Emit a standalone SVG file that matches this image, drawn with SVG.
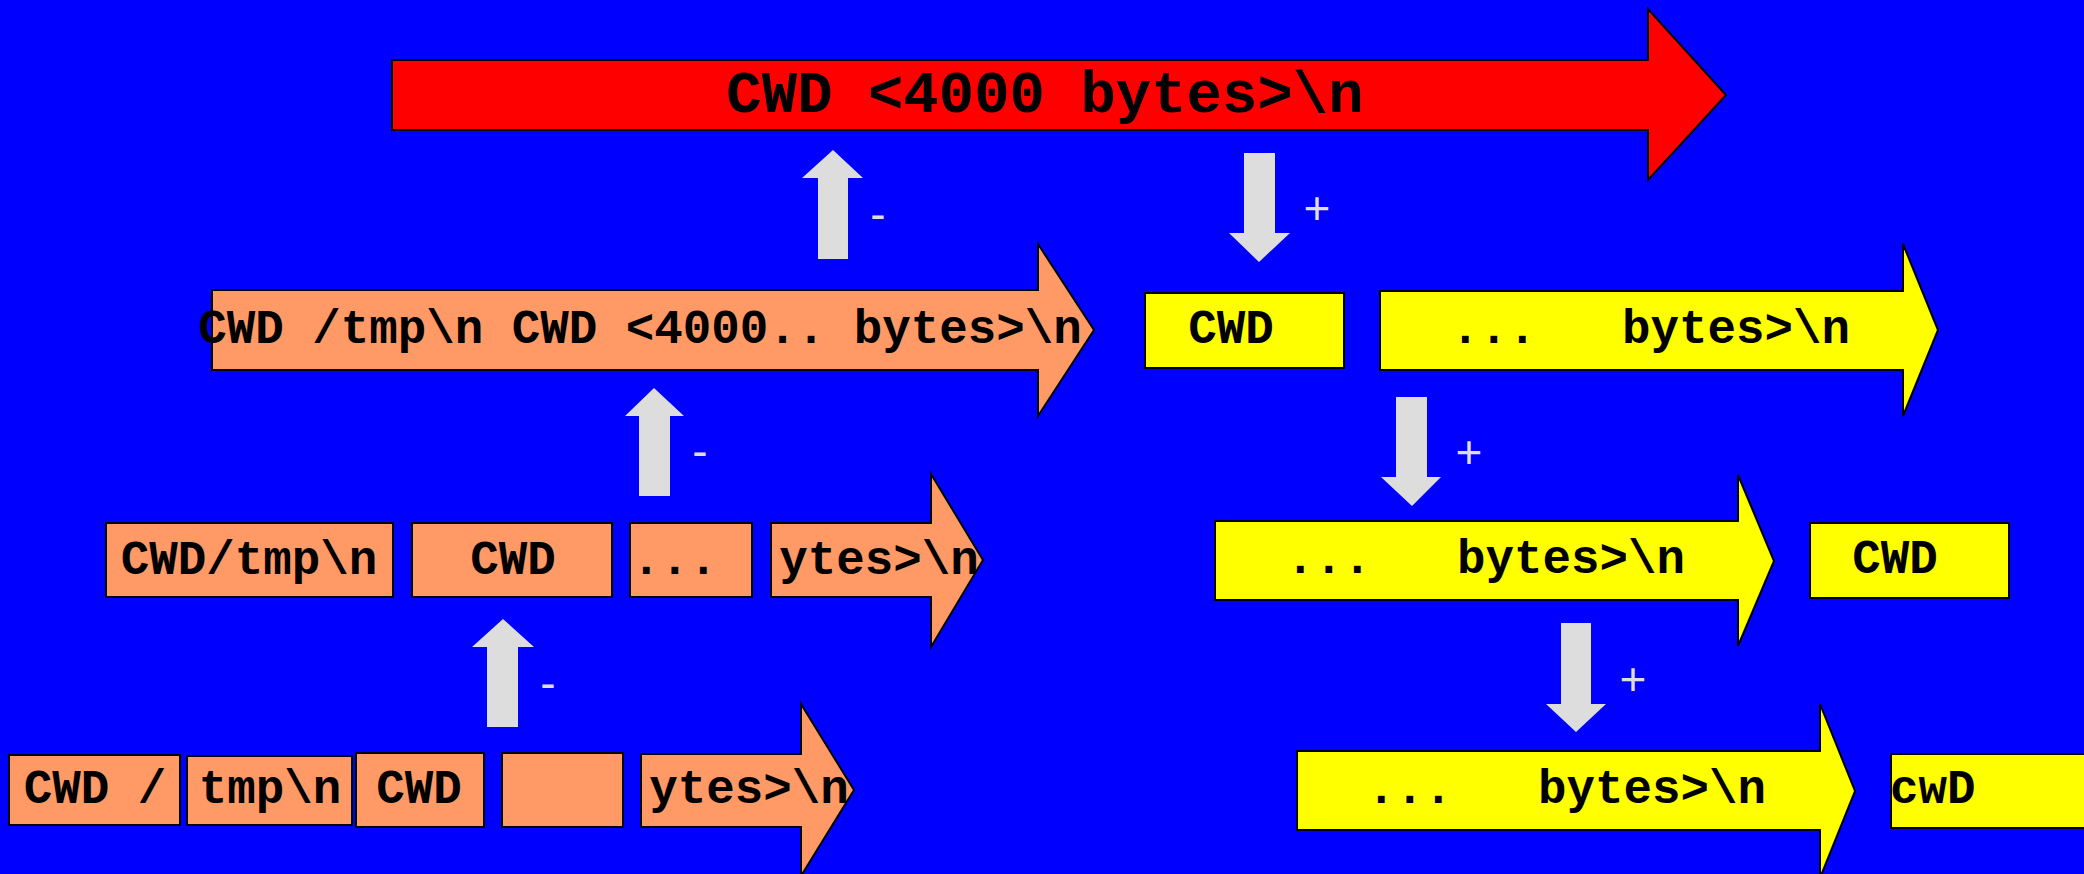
<svg xmlns="http://www.w3.org/2000/svg" width="2084" height="874" viewBox="0 0 2084 874">
<style>
.bg{fill:#0000FF}
.red{fill:#FF0000;stroke:#000;stroke-width:2}
.org{fill:#FF9966;stroke:#000;stroke-width:2}
.yel{fill:#FFFF00;stroke:#000;stroke-width:2}
.t{font-family:"Liberation Mono","DejaVu Sans Mono",monospace;font-weight:bold;font-size:47.5px;fill:#000;white-space:pre}
.big{font-size:59px}
.m{text-anchor:middle}
.gray{fill:#DDDDDD}
.lbl{font-family:"Liberation Sans",Arial,sans-serif;font-size:46px;fill:#DDDDDD;text-anchor:middle}
</style>
<rect class="bg" x="0" y="0" width="2084" height="874"/>
<g id="connectors">
<polygon class="gray" points="833,150 863,178 848,178 848,259 818,259 818,178 802,178"/>
<text class="lbl" x="878" y="230">-</text>
<polygon class="gray" points="654,388 684,416 670,416 670,496 639,496 639,416 625,416"/>
<text class="lbl" x="700" y="467">-</text>
<polygon class="gray" points="503,619 534,647 518,647 518,727 487,727 487,647 472,647"/>
<text class="lbl" x="548" y="699">-</text>
<polygon class="gray" points="1244,153 1275,153 1275,233 1290,233 1259,262 1229,233 1244,233"/>
<text class="lbl" x="1317" y="224">+</text>
<polygon class="gray" points="1396,397 1427,397 1427,477 1441,477 1412,506 1381,477 1396,477"/>
<text class="lbl" x="1469" y="468">+</text>
<polygon class="gray" points="1561,623 1591,623 1591,704 1606,704 1576,732 1546,704 1561,704"/>
<text class="lbl" x="1633" y="695">+</text>
</g>
<g id="red-cwd-4000">
<polygon class="red" points="392,60 1648,60 1648,9 1726,95 1648,180 1648,130 392,130"/>
<text class="t big m" x="1045" y="112">CWD &lt;4000 bytes&gt;\n</text>
</g>
<g id="orange-row2">
<polygon class="org" points="212,290 1038,290 1038,244 1094,330 1038,416 1038,370 212,370"/>
<text class="t m" x="640" y="343" xml:space="preserve">CWD /tmp\n CWD &lt;4000.. bytes&gt;\n</text>
</g>
<g id="orange-row3-box1">
<rect class="org" x="106" y="523" width="287" height="74"/>
<text class="t m" x="249" y="574">CWD/tmp\n</text>
</g>
<g id="orange-row3-box2">
<rect class="org" x="412" y="523" width="200" height="74"/>
<text class="t m" x="513" y="574">CWD</text>
</g>
<g id="orange-row3-box3">
<rect class="org" x="630" y="523" width="122" height="74"/>
<text class="t" x="632" y="574">...</text>
</g>
<g id="orange-row3-arrow">
<polygon class="org" points="771,523 931,523 931,474 983,560 931,647 931,597 771,597"/>
<text class="t m" x="879" y="574">ytes&gt;\n</text>
</g>
<g id="orange-row4-box1">
<rect class="org" x="9" y="755" width="171" height="70"/>
<text class="t m" x="95" y="803">CWD /</text>
</g>
<g id="orange-row4-box2">
<rect class="org" x="187" y="756" width="165" height="69"/>
<text class="t m" x="270" y="803">tmp\n</text>
</g>
<g id="orange-row4-box3">
<rect class="org" x="356" y="753" width="128" height="74"/>
<text class="t m" x="419" y="803">CWD</text>
</g>
<g id="orange-row4-box4">
<rect class="org" x="502" y="753" width="121" height="74"/>
</g>
<g id="orange-row4-arrow">
<polygon class="org" points="641,754 801,754 801,704 854,790 801,876 801,827 641,827"/>
<text class="t m" x="749" y="803">ytes&gt;\n</text>
</g>
<g id="yellow-row2-box">
<rect class="yel" x="1145" y="293" width="199" height="75"/>
<text class="t m" x="1231" y="343">CWD</text>
</g>
<g id="yellow-row2-arrow">
<polygon class="yel" points="1380,291 1903,291 1903,244 1938,330 1903,416 1903,370 1380,370"/>
<text class="t" x="1451" y="343" xml:space="preserve">...   bytes&gt;\n</text>
</g>
<g id="yellow-row3-arrow">
<polygon class="yel" points="1215,521 1738,521 1738,475 1774,561 1738,646 1738,600 1215,600"/>
<text class="t" x="1286" y="573" xml:space="preserve">...   bytes&gt;\n</text>
</g>
<g id="yellow-row3-box">
<rect class="yel" x="1810" y="523" width="199" height="75"/>
<text class="t m" x="1895" y="573">CWD</text>
</g>
<g id="yellow-row4-arrow">
<polygon class="yel" points="1297,751 1820,751 1820,704 1855,791 1820,878 1820,830 1297,830"/>
<text class="t" x="1367" y="803" xml:space="preserve">...   bytes&gt;\n</text>
</g>
<g id="yellow-row4-box">
<rect class="yel" x="1891" y="754" width="210" height="74"/>
<text class="t" x="1890" y="803">cwD</text>
</g>
</svg>
